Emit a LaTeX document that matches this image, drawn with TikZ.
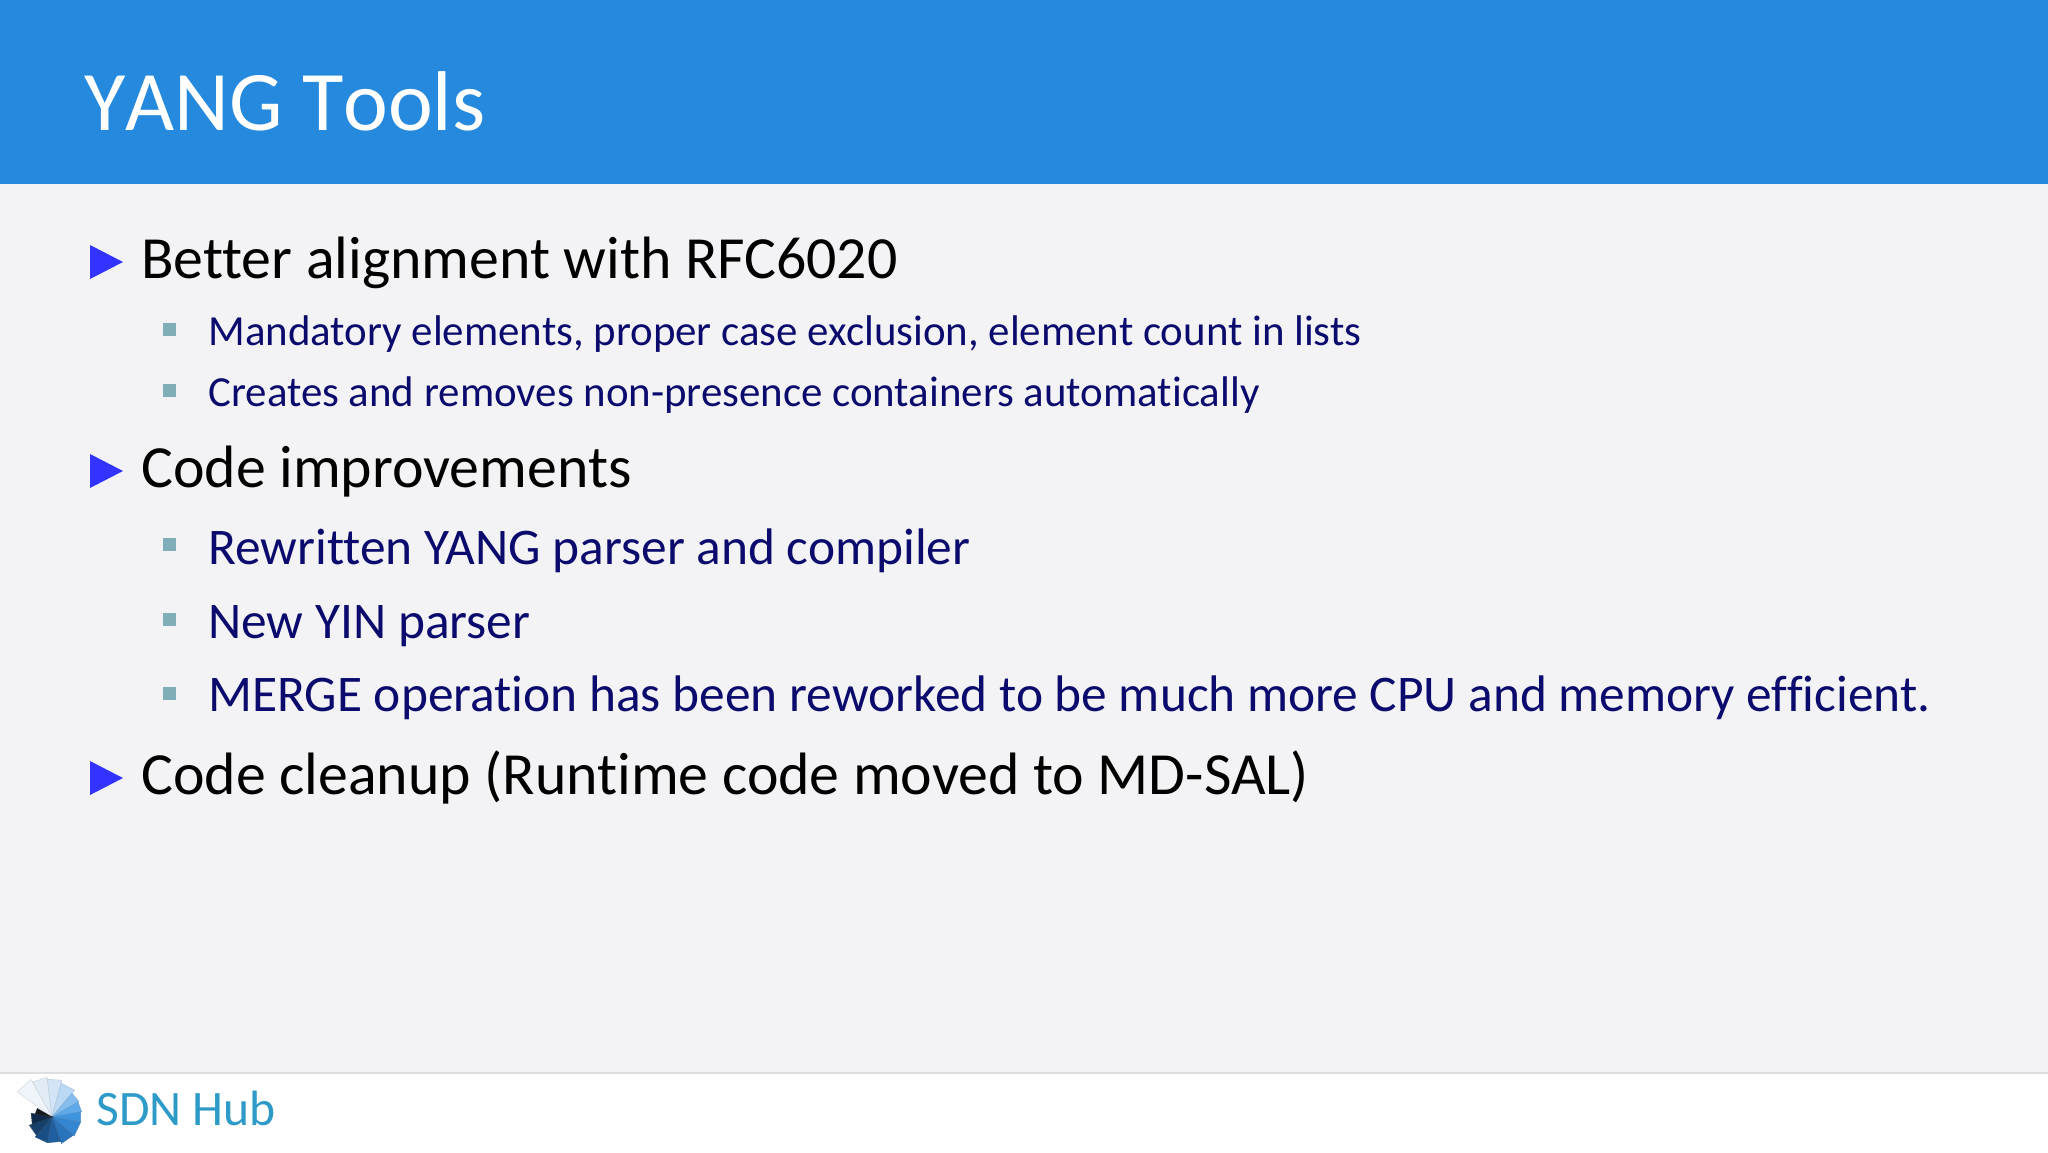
\documentclass[tikz,border=0pt]{standalone}
\usepackage{fontspec}
\setmainfont[Ligatures=NoCommon]{Carlito}
\definecolor{hdr}{HTML}{2589DD}
\definecolor{pagebg}{HTML}{F3F3F5}
\definecolor{navy}{HTML}{0B0B6E}
\definecolor{tri}{HTML}{3333FF}
\definecolor{sq}{HTML}{7FAEB9}
\definecolor{hub}{HTML}{2E9AC8}
\definecolor{fline}{HTML}{DEDEE0}
\newfontfamily\titlefont[Ligatures=NoCommon,Kerning=Off]{Carlito}
\tikzset{x=0.5pt,y=-0.5pt,
 titletext/.style={anchor=base west,inner sep=0,text=white,font=\titlefont\fontsize{42.4}{48}\selectfont},
 lone/.style={anchor=base west,inner sep=0,text=black,font=\fontsize{29.9}{34}\selectfont},
 ltwo/.style={anchor=base west,inner sep=0,text=navy,font=\fontsize{21.45}{26}\selectfont},
 ltwob/.style={anchor=base west,inner sep=0,text=navy,font=\fontsize{25.7}{30}\selectfont},
 tribullet/.style={fill=tri},
 sqbullet/.style={fill=sq}}
\newcommand{\tribul}[1]{\fill[tribullet] (90,#1-17) -- (123,#1) -- (90,#1+17) -- cycle;}
\newcommand{\sqbul}[1]{\fill[sqbullet] (163,#1-6.5) rectangle (176,#1+6.5);}
\newcommand{\blade}[4]{\filldraw[fill=#4,draw=#4!80!gray,line width=.3pt] (52,1117) -- ({52+#3*cos(#1)},{1117-#3*sin(#1)}) -- ({52+#3*cos(#2)},{1117-#3*sin(#2)}) -- cycle;}
\begin{document}
\begin{tikzpicture}
\useasboundingbox (0,0) rectangle (2048,1152);
\fill[pagebg] (0,0) rectangle (2048,1152);
\fill[hdr] (0,0) rectangle (2048,184);
\fill[white] (0,1073) rectangle (2048,1152);
\draw[fline,line width=1pt] (0,1073) -- (2048,1073);
\node[titletext] (title) at (84,130) {YANG Tools};
\tribul{262}
\node[lone] (a) at (141,278) {Better alignment with RFC6020};
\sqbul{329}
\node[ltwo] (a1) at (208,345) {Mandatory elements, proper case exclusion, element count in lists};
\sqbul{390}
\node[ltwo] (a2) at (208,406) {Creates and removes non-presence containers automatically};
\tribul{471}
\node[lone] (b) at (141,487) {Code improvements};
\sqbul{544}
\node[ltwob] (b1) at (208,564) {Rewritten YANG parser and compiler};
\sqbul{619}
\node[ltwob] (b2) at (208,638) {New YIN parser};
\sqbul{693}
\node[ltwob] (b3) at (208,711) {MERGE operation has been reworked to be much more CPU and memory efficient.};
\tribul{778}
\node[lone] (c) at (141,794) {Code cleanup (Runtime code moved to MD-SAL)};
% logo
\definecolor{la}{HTML}{F0F5FB}\definecolor{lb}{HTML}{E2ECF7}\definecolor{lc}{HTML}{D3E4F6}\definecolor{ld}{HTML}{BCD9F4}
\definecolor{le}{HTML}{85BEEE}\definecolor{lf}{HTML}{5FA9E8}\definecolor{lg}{HTML}{3F94DE}\definecolor{lh}{HTML}{3586D0}
\definecolor{li}{HTML}{2A74BC}\definecolor{lj}{HTML}{1F5F9F}\definecolor{lk}{HTML}{1A4F85}\definecolor{ll}{HTML}{163F6A}
\definecolor{lm}{HTML}{0F2A48}\definecolor{ln}{HTML}{14181F}
\blade{144}{119}{43}{la}
\blade{119}{97}{40}{lb}
\blade{97}{75}{38}{lc}
\blade{75}{50}{35}{ld}
\blade{50}{30}{31}{le}
\blade{30}{10}{30}{lf}
\blade{10}{-10}{29}{lg}
\blade{-10}{-40}{29}{lh}
\blade{-40}{-70}{28}{li}
\blade{-70}{-100}{26}{lj}
\blade{-100}{-130}{26}{lk}
\blade{-130}{-160}{24}{ll}
\blade{-160}{-190}{21}{lm}
\blade{-190}{-210}{17}{ln}
\node[anchor=base west,inner sep=0,text=hub,font=\fontsize{24.8}{30}\selectfont] (hubt) at (96,1125) {SDN Hub};
\end{tikzpicture}
\end{document}
